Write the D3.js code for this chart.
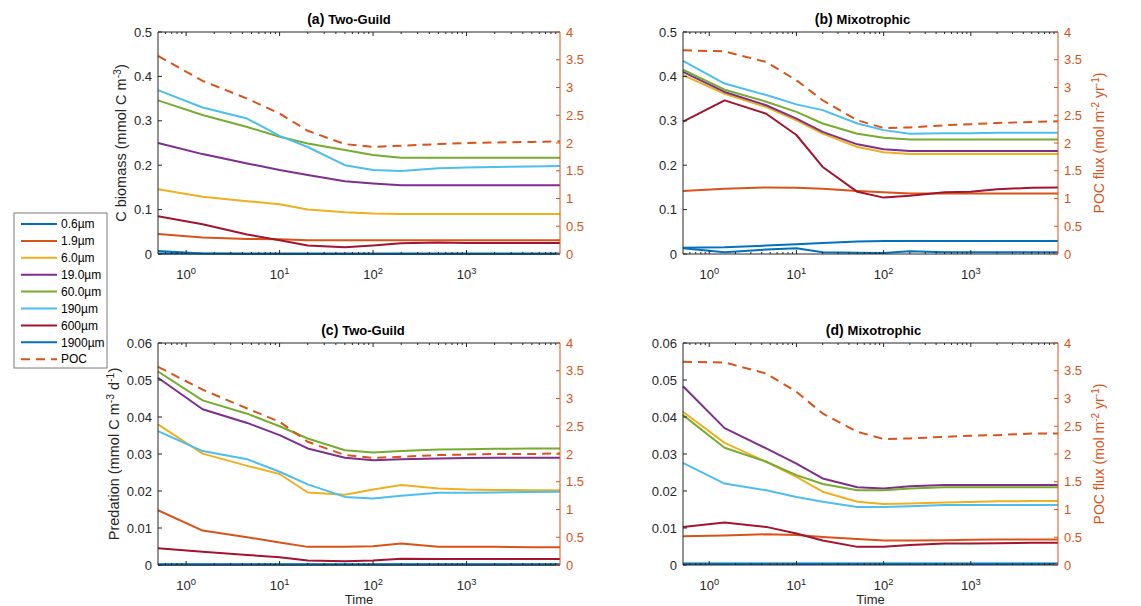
<!DOCTYPE html>
<html lang="en">
<head>
<meta charset="UTF-8">
<title>Biomass, predation and POC flux</title>
<script src="https://d3js.org/d3.v7.min.js"></script>
<style>
  body { margin: 0; background: #fff; }
  text { font-family: "Liberation Sans", Arial, sans-serif; }
</style>
</head>
<body>
<svg width="1141" height="606"></svg>
<script>
// time points (x axis, log scale)
const times = [0.5, 1.5, 4.5, 10, 20, 50, 100, 200, 500, 1000, 2000, 5000, 10000];
const sizeClasses = ["0.6\u00b5m", "1.9\u00b5m", "6.0\u00b5m", "19.0\u00b5m", "60.0\u00b5m", "190\u00b5m", "600\u00b5m", "1900\u00b5m"];
const lineColors = ["#0072BD", "#D95319", "#EDB120", "#7E2F8E", "#77AC30", "#4DBEEE", "#A2142F", "#0072BD"];
const pocColor = "#D95319";

// (a) Two-Guild C biomass, one row per size class
const biomassTwoGuild = [
  [0.007, 0.001, 0, 0, 0, 0, 0, 0, 0, 0, 0, 0, 0],
  [0.045, 0.037, 0.034, 0.033, 0.031, 0.031, 0.031, 0.031, 0.031, 0.031, 0.031, 0.031, 0.031],
  [0.146, 0.129, 0.119, 0.112, 0.100, 0.094, 0.091, 0.090, 0.090, 0.090, 0.090, 0.090, 0.090],
  [0.250, 0.225, 0.204, 0.189, 0.178, 0.164, 0.159, 0.155, 0.155, 0.155, 0.155, 0.155, 0.155],
  [0.346, 0.313, 0.286, 0.264, 0.249, 0.234, 0.223, 0.217, 0.217, 0.217, 0.217, 0.217, 0.217],
  [0.369, 0.330, 0.305, 0.266, 0.241, 0.200, 0.189, 0.187, 0.193, 0.195, 0.196, 0.197, 0.198],
  [0.085, 0.067, 0.044, 0.031, 0.019, 0.015, 0.019, 0.024, 0.026, 0.025, 0.025, 0.025, 0.025],
  [0.001, 0.001, 0.001, 0.001, 0.001, 0.001, 0.001, 0.001, 0.001, 0.001, 0.001, 0.001, 0.001]
];
const pocTwoGuildA = [3.57, 3.12, 2.80, 2.53, 2.22, 1.98, 1.93, 1.95, 1.98, 2.00, 2.01, 2.02, 2.03];

// (b) Mixotrophic C biomass
const biomassMixo = [
  [0.014, 0.015, 0.019, 0.022, 0.025, 0.028, 0.029, 0.029, 0.029, 0.029, 0.029, 0.029, 0.029],
  [0.142, 0.147, 0.150, 0.149, 0.147, 0.142, 0.139, 0.136, 0.136, 0.136, 0.136, 0.136, 0.136],
  [0.403, 0.361, 0.331, 0.301, 0.271, 0.241, 0.229, 0.225, 0.225, 0.225, 0.225, 0.225, 0.225],
  [0.410, 0.365, 0.335, 0.305, 0.275, 0.247, 0.236, 0.232, 0.232, 0.232, 0.232, 0.232, 0.232],
  [0.415, 0.370, 0.343, 0.320, 0.294, 0.271, 0.262, 0.258, 0.258, 0.258, 0.258, 0.258, 0.258],
  [0.435, 0.384, 0.358, 0.337, 0.324, 0.294, 0.279, 0.271, 0.272, 0.272, 0.273, 0.273, 0.273],
  [0.298, 0.346, 0.316, 0.268, 0.196, 0.140, 0.127, 0.131, 0.139, 0.140, 0.146, 0.149, 0.150],
  [0.013, 0.004, 0.010, 0.013, 0.004, 0.003, 0.002, 0.006, 0.004, 0.004, 0.004, 0.004, 0.004]
];
const pocMixoB = [3.67, 3.65, 3.46, 3.13, 2.77, 2.41, 2.27, 2.28, 2.32, 2.34, 2.36, 2.38, 2.39];

// (c) Two-Guild predation
const predationTwoGuild = [
  [0.0002, 0.0002, 0.0002, 0.0002, 0.0002, 0.0002, 0.0002, 0.0002, 0.0002, 0.0002, 0.0002, 0.0002, 0.0002],
  [0.0148, 0.0093, 0.0075, 0.0061, 0.0049, 0.0049, 0.0051, 0.0058, 0.0049, 0.0049, 0.0049, 0.0048, 0.0048],
  [0.0380, 0.0301, 0.0268, 0.0246, 0.0196, 0.0190, 0.0204, 0.0216, 0.0207, 0.0204, 0.0203, 0.0202, 0.0202],
  [0.0506, 0.0421, 0.0384, 0.0351, 0.0315, 0.0290, 0.0283, 0.0286, 0.0288, 0.0289, 0.0290, 0.0290, 0.0290],
  [0.0523, 0.0445, 0.0409, 0.0375, 0.0342, 0.0310, 0.0304, 0.0308, 0.0312, 0.0313, 0.0314, 0.0315, 0.0315],
  [0.0362, 0.0308, 0.0286, 0.0252, 0.0218, 0.0184, 0.0180, 0.0187, 0.0195, 0.0195, 0.0196, 0.0197, 0.0198],
  [0.0045, 0.0036, 0.0027, 0.0021, 0.0012, 0.0010, 0.0012, 0.0017, 0.0016, 0.0016, 0.0016, 0.0016, 0.0016],
  [0.0001, 0.0001, 0.0001, 0.0001, 0.0001, 0.0001, 0.0001, 0.0001, 0.0001, 0.0001, 0.0001, 0.0001, 0.0001]
];
const pocTwoGuildC = [3.57, 3.16, 2.82, 2.58, 2.22, 1.98, 1.93, 1.95, 1.98, 1.99, 2.00, 2.00, 2.01];

// (d) Mixotrophic predation
const predationMixo = [
  [0.0004, 0.0004, 0.0004, 0.0004, 0.0004, 0.0004, 0.0004, 0.0004, 0.0004, 0.0004, 0.0004, 0.0004, 0.0004],
  [0.0078, 0.0080, 0.0083, 0.0081, 0.0076, 0.0070, 0.0066, 0.0066, 0.0067, 0.0068, 0.0069, 0.0069, 0.0069],
  [0.0414, 0.0330, 0.0279, 0.0238, 0.0198, 0.0171, 0.0165, 0.0166, 0.0169, 0.0170, 0.0172, 0.0173, 0.0173],
  [0.0483, 0.0370, 0.0315, 0.0274, 0.0234, 0.0210, 0.0207, 0.0213, 0.0216, 0.0216, 0.0216, 0.0216, 0.0216],
  [0.0405, 0.0317, 0.0279, 0.0243, 0.0219, 0.0202, 0.0202, 0.0207, 0.0210, 0.0210, 0.0210, 0.0210, 0.0210],
  [0.0276, 0.0220, 0.0202, 0.0184, 0.0171, 0.0157, 0.0157, 0.0159, 0.0162, 0.0162, 0.0162, 0.0162, 0.0162],
  [0.0103, 0.0115, 0.0103, 0.0085, 0.0066, 0.0049, 0.0049, 0.0054, 0.0058, 0.0058, 0.0059, 0.0060, 0.0060],
  [0.0003, 0.0003, 0.0003, 0.0003, 0.0003, 0.0003, 0.0003, 0.0003, 0.0003, 0.0003, 0.0003, 0.0003, 0.0003]
];
const pocMixoD = [3.66, 3.65, 3.45, 3.12, 2.73, 2.40, 2.27, 2.28, 2.31, 2.33, 2.34, 2.37, 2.37];

const xMajorTicks = [1, 10, 100, 1000];
const biomassTicks = [0, 0.1, 0.2, 0.3, 0.4, 0.5];
const predationTicks = [0, 0.01, 0.02, 0.03, 0.04, 0.05, 0.06];
const pocTicks = [0, 0.5, 1, 1.5, 2, 2.5, 3, 3.5, 4];

const svg = d3.select("svg");
const axisColor = "#262626";

// minor ticks for the log axis: 2..9 of every decade inside the domain
function minorTicks(domain) {
    let out = [];
    for (let e = -1; e <= 4; e++) {
        for (let k = 2; k <= 9; k++) {
            let v = k * Math.pow(10, e);
            if (v > domain[0] && v < domain[1]) out.push(v);
        }
    }
    return out;
}

// text with superscript parts: parts = [[text, isSup], ...]
function supText(sel, parts, size) {
    parts.forEach(p => {
        if (p[1]) {
            sel.append("tspan").attr("dy", -5).attr("font-size", size * 0.72).text(p[0]);
        } else {
            sel.append("tspan").attr("dy", sel.selectAll("tspan").size() > 0 ? 5 : 0).text(p[0]);
        }
    });
}

function drawPanel(cfg) {
    const w = cfg.right - cfg.left, h = cfg.bottom - cfg.top;
    const g = svg.append("g").attr("transform", `translate(${cfg.left},${cfg.top})`);

    const x = d3.scaleLog().domain([0.5, 10000]).range([0, w]);
    const yL = d3.scaleLinear().domain([0, cfg.ymax]).range([h, 0]);
    const yR = d3.scaleLinear().domain([0, 4]).range([h, 0]);

    // series lines
    const line = d3.line().x(d => x(d[0])).y(d => yL(d[1]));
    cfg.series.forEach((s, i) => {
        g.append("path")
            .datum(times.map((t, j) => [t, s[j]]))
            .attr("d", line)
            .attr("fill", "none")
            .attr("stroke", lineColors[i])
            .attr("stroke-width", 2)
            .attr("stroke-linejoin", "round");
    });
    const pocLine = d3.line().x(d => x(d[0])).y(d => yR(d[1]));
    g.append("path")
        .datum(times.map((t, j) => [t, cfg.poc[j]]))
        .attr("d", pocLine)
        .attr("fill", "none")
        .attr("stroke", pocColor)
        .attr("stroke-width", 2)
        .attr("stroke-dasharray", "9,6");

    // x axes (bottom and top), ticks inside
    const minors = minorTicks(x.domain());
    [[h, -1], [0, 1]].forEach(([yy, dir]) => {
        g.append("line").attr("x1", 0).attr("x2", w).attr("y1", yy).attr("y2", yy)
            .attr("stroke", axisColor).attr("stroke-width", 1);
        g.selectAll(null).data(xMajorTicks).enter().append("line")
            .attr("x1", d => x(d)).attr("x2", d => x(d))
            .attr("y1", yy).attr("y2", yy + dir * 4)
            .attr("stroke", axisColor);
        g.selectAll(null).data(minors).enter().append("line")
            .attr("x1", d => x(d)).attr("x2", d => x(d))
            .attr("y1", yy).attr("y2", yy + dir * 2)
            .attr("stroke", axisColor);
    });
    xMajorTicks.forEach(v => {
        const t = g.append("text")
            .attr("x", x(v)).attr("y", h + 20)
            .attr("text-anchor", "middle")
            .attr("font-size", 13).attr("fill", axisColor);
        supText(t, [["10", false], [String(Math.round(Math.log10(v))), true]], 13);
    });

    // left y axis
    g.append("line").attr("x1", 0).attr("x2", 0).attr("y1", 0).attr("y2", h)
        .attr("stroke", axisColor);
    g.selectAll(null).data(cfg.yTicks).enter().append("line")
        .attr("x1", 0).attr("x2", 4)
        .attr("y1", d => yL(d)).attr("y2", d => yL(d))
        .attr("stroke", axisColor);
    g.selectAll(null).data(cfg.yTicks).enter().append("text")
        .attr("x", -6).attr("y", d => yL(d)).attr("dy", "0.35em")
        .attr("text-anchor", "end").attr("font-size", 13).attr("fill", axisColor)
        .text(d => d);

    // right y axis (POC)
    g.append("line").attr("x1", w).attr("x2", w).attr("y1", 0).attr("y2", h)
        .attr("stroke", pocColor);
    g.selectAll(null).data(pocTicks).enter().append("line")
        .attr("x1", w).attr("x2", w - 4)
        .attr("y1", d => yR(d)).attr("y2", d => yR(d))
        .attr("stroke", pocColor);
    g.selectAll(null).data(pocTicks).enter().append("text")
        .attr("x", w + 6).attr("y", d => yR(d)).attr("dy", "0.35em")
        .attr("font-size", 13).attr("fill", pocColor)
        .text(d => d);

    // title
    const title = g.append("text")
        .attr("x", w / 2 + cfg.titleDx).attr("y", -8)
        .attr("text-anchor", "middle")
        .attr("font-size", 13).attr("font-weight", "bold").attr("fill", "#000");
    title.append("tspan").attr("font-size", 14).text(cfg.tag + " ");
    title.append("tspan").text(cfg.title);

    // left y label
    if (cfg.yLabel) {
        const yl = g.append("text")
            .attr("transform", `translate(${cfg.yLabelX},${h / 2}) rotate(-90)`)
            .attr("text-anchor", "middle").attr("font-size", 14.5).attr("fill", axisColor);
        supText(yl, cfg.yLabel, 14.5);
    }
    // right y label
    if (cfg.rightLabel) {
        const rl = g.append("text")
            .attr("transform", `translate(${w + 41},${h / 2}) rotate(-90)`)
            .attr("text-anchor", "middle").attr("font-size", 14).attr("fill", pocColor);
        supText(rl, [["POC flux (mol m", false], ["-2", true], [" yr", false], ["-1", true], [")", false]], 14);
    }
    if (cfg.xLabel) {
        g.append("text").attr("x", w / 2).attr("y", h + 39)
            .attr("text-anchor", "middle").attr("font-size", 13).attr("fill", axisColor)
            .text("Time");
    }
}

drawPanel({ left: 158, right: 560, top: 32, bottom: 254, ymax: 0.5, yTicks: biomassTicks,
    series: biomassTwoGuild, poc: pocTwoGuildA, tag: "(a)", title: "Two-Guild", titleDx: -10,
    yLabel: [["C biomass  (mmol C m", false], ["-3", true], [")", false]], yLabelX: -37 });
drawPanel({ left: 683, right: 1058, top: 32, bottom: 254, ymax: 0.5, yTicks: biomassTicks,
    series: biomassMixo, poc: pocMixoB, tag: "(b)", title: "Mixotrophic", titleDx: -8,
    rightLabel: true });
drawPanel({ left: 158, right: 560, top: 343, bottom: 565, ymax: 0.06, yTicks: predationTicks,
    series: predationTwoGuild, poc: pocTwoGuildC, tag: "(c)", title: "Two-Guild", titleDx: 4,
    yLabel: [["Predation (mmol C m", false], ["-3", true], [" d", false], ["-1", true], [")", false]], yLabelX: -44,
    xLabel: true });
drawPanel({ left: 683, right: 1058, top: 343, bottom: 565, ymax: 0.06, yTicks: predationTicks,
    series: predationMixo, poc: pocMixoD, tag: "(d)", title: "Mixotrophic", titleDx: 3,
    rightLabel: true, xLabel: true });

// legend
const legend = svg.append("g").attr("transform", "translate(14,213)");
legend.append("rect").attr("width", 93).attr("height", 155)
    .attr("fill", "#fff").attr("stroke", "#7a7a7a").attr("stroke-width", 1);
const legendItems = sizeClasses.map((s, i) => ({ label: s, color: lineColors[i], dash: null }))
    .concat([{ label: "POC", color: pocColor, dash: "9,6" }]);
legendItems.forEach((d, i) => {
    const yy = 11 + i * 16.9;
    legend.append("line").attr("x1", 7).attr("x2", 43).attr("y1", yy).attr("y2", yy)
        .attr("stroke", d.color).attr("stroke-width", 2)
        .attr("stroke-dasharray", d.dash);
    legend.append("text").attr("x", 47).attr("y", yy).attr("dy", "0.35em")
        .attr("font-size", 12).attr("fill", "#000").text(d.label);
});
</script>
</body>
</html>
